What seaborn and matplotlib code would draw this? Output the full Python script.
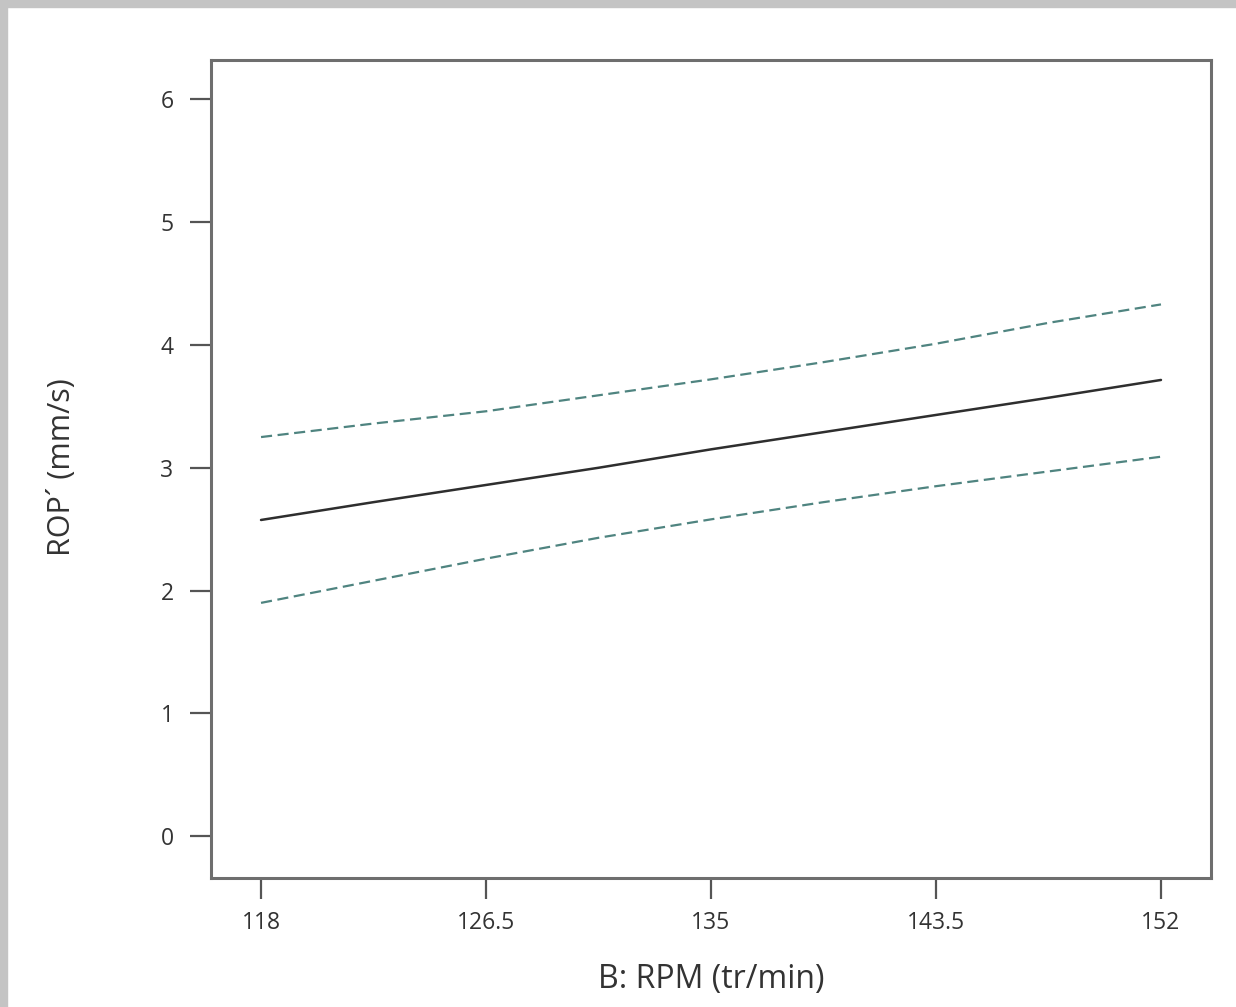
import matplotlib
matplotlib.use("Agg")
import matplotlib.pyplot as plt
import seaborn as sns
import pandas as pd
from matplotlib.patches import Rectangle

# ---- data ----
rpm = [118, 122.25, 126.5, 130.75, 135, 139.25, 143.5, 147.75, 152]
rop_mean = [2.575, 2.72, 2.86, 3.00, 3.15, 3.29, 3.43, 3.57, 3.715]
rop_upper = [3.25, 3.36, 3.46, 3.59, 3.72, 3.86, 4.01, 4.18, 4.33]
rop_lower = [1.90, 2.08, 2.26, 2.43, 2.58, 2.72, 2.85, 2.97, 3.09]
x_ticks = [118, 126.5, 135, 143.5, 152]
x_ticklabels = ["118", "126.5", "135", "143.5", "152"]
y_ticks = [0, 1, 2, 3, 4, 5, 6]
x_label = "B: RPM (tr/min)"
y_label = "ROP\u00b4 (mm/s)"

df = pd.DataFrame({"rpm": rpm, "mean": rop_mean, "upper": rop_upper, "lower": rop_lower})

sns.set_theme(style="white")
plt.rcParams["font.family"] = ["Open Sans", "DejaVu Sans"]

fig = plt.figure(figsize=(12.36, 10.07), dpi=100)
ax = fig.add_axes([211/1236, 1-878/1007, 1000/1236, 818/1007])

band_color = "#4f8480"
sns.lineplot(data=df, x="rpm", y="upper", ax=ax, color=band_color, lw=1.6,
             linestyle=(0, (5, 2.5)))
sns.lineplot(data=df, x="rpm", y="lower", ax=ax, color=band_color, lw=1.6,
             linestyle=(0, (5, 2.5)))
sns.lineplot(data=df, x="rpm", y="mean", ax=ax, color="#2e2e2e", lw=1.8)

ax.set_xlim(116.11, 153.89)
ax.set_ylim(-0.34, 6.32)
ax.set_xticks(x_ticks)
ax.set_xticklabels(x_ticklabels)
ax.set_yticks(y_ticks)

for s in ax.spines.values():
    s.set_visible(True)
    s.set_color("#6e6e6e")
    s.set_linewidth(2.2)

ax.tick_params(axis="both", which="major", direction="out", length=15, width=1.6,
               color="#555555", labelsize=16.5, labelcolor="#333333", pad=9,
               bottom=True, left=True)
ax.tick_params(axis="y", pad=12)

ax.set_xlabel(x_label, fontsize=23, color="#333333")
ax.set_ylabel(y_label, fontsize=22, color="#333333")
ax.xaxis.set_label_coords(0.5, -0.104)
ax.yaxis.set_label_coords(-0.134, 0.502)

# frame shadow on top and left edges
fig.patches.append(Rectangle((0, 1-7/1007), 1, 7/1007, transform=fig.transFigure,
                             color="#c4c4c4", zorder=0))
fig.patches.append(Rectangle((0, 0), 7/1236, 1, transform=fig.transFigure,
                             color="#c4c4c4", zorder=0))

fig.savefig("out.png", dpi=100)
